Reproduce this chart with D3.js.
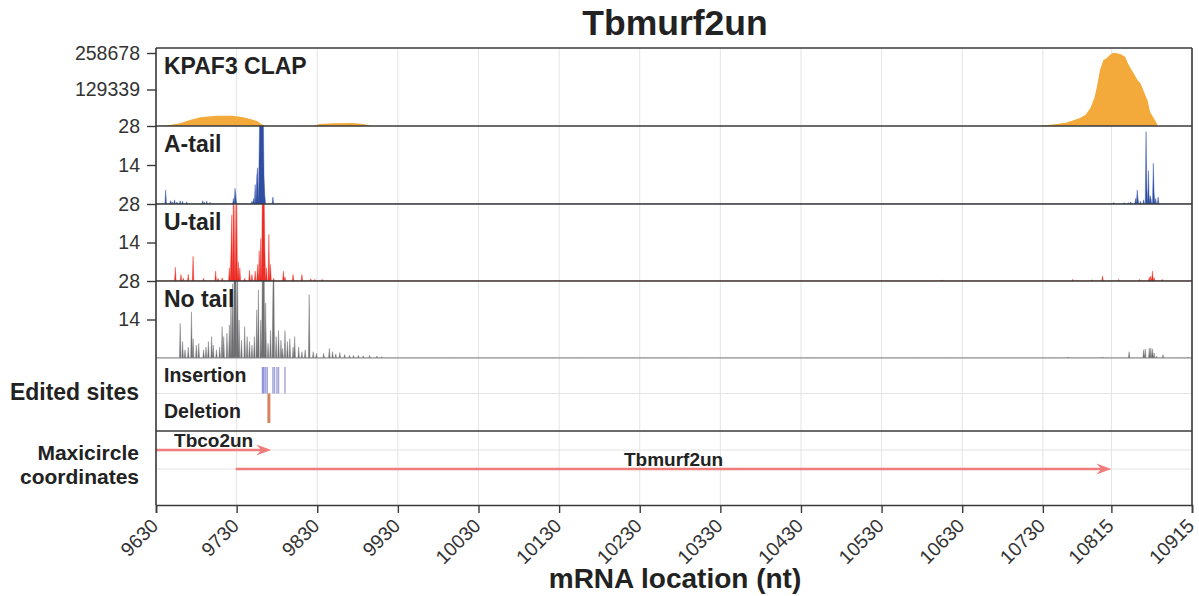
<!DOCTYPE html>
<html>
<head>
<meta charset="utf-8">
<script src="https://cdn.jsdelivr.net/npm/d3@7/dist/d3.min.js"></script>
<style>
  html, body { margin: 0; padding: 0; background: #fff; }
  svg { display: block; font-family: "Liberation Sans", Arial, Helvetica, sans-serif; }
</style>
</head>
<body>
<svg id="chart" width="1199" height="596"></svg>
<script>
// ---- data ----------------------------------------------------------------
const xTicks = [9630, 9730, 9830, 9930, 10030, 10130, 10230, 10330, 10430, 10530, 10630, 10730, 10815, 10915];

// KPAF3 CLAP coverage (position, reads)
const clapPos = [9631, 9645, 9660, 9672, 9685, 9705, 9725, 9738, 9748, 9755, 9761, 9765, 9768,
                 9825, 9833, 9850, 9874, 9887, 9899,
                 10720, 10740, 10760, 10776, 10783, 10789, 10794, 10797, 10801, 10805, 10809, 10813, 10817, 10820,
                 10826, 10832, 10835, 10838, 10844, 10848, 10851, 10857, 10860, 10863, 10866, 10869, 10873];
const clapVal = [0, 3000, 9500, 21000, 31000, 36500, 36500, 31000, 24000, 18000, 6000, 1500, 0,
                 0, 7000, 9500, 10500, 7000, 0,
                 0, 4000, 12000, 28000, 40000, 64000, 100000, 138000, 200000, 233000, 240000, 252000, 258678, 258678,
                 255000, 245000, 225000, 209000, 180000, 160000, 152000, 110000, 90000, 50000, 35000, 21000, 0];
const clapTicks = [129339, 258678];

// tailed read counts (position, reads)
const aTailPos = [9642, 9648, 9650, 9653, 9656, 9660, 9663, 9668, 9688, 9690, 9693, 9697, 9726, 9728, 9729,
                  9749, 9751, 9753, 9755, 9756, 9758, 9759, 9760, 9761, 9762, 9763, 9764, 9765, 9775,
                  10818, 10831, 10836, 10839, 10845, 10847, 10848, 10851, 10855, 10858, 10859, 10861, 10863,
                  10864, 10867, 10868, 10870, 10873];
const aTailVal = [5, 1.2, 0.8, 1.5, 0.7, 1.2, 1, 0.8, 1.2, 0.6, 1, 0.6, 2, 5.6, 3,
                  1, 2, 7, 10, 13, 20, 40, 60, 60, 45, 35, 10, 3, 2.5,
                  0.5, 0.5, 0.5, 0.8, 2, 5, 2, 1, 1.5, 26, 6, 12, 3,
                  2, 14.6, 4, 2, 2.5];

const uTailPos = [9654, 9661, 9664, 9670, 9676, 9689, 9704, 9707, 9712, 9721, 9723, 9724, 9726, 9728, 9730,
                  9732, 9734, 9740, 9746, 9749, 9753, 9756, 9758, 9760, 9762, 9763, 9764, 9765, 9767, 9770,
                  9772, 9776, 9788, 9790, 9800, 9811, 9822, 9827, 9836,
                  10605, 10767, 10791, 10804, 10824, 10850, 10862, 10864, 10866, 10868, 10878];
const uTailVal = [5, 2.4, 1, 2.4, 9, 1, 3.6, 1, 1.2, 4.8, 11, 24, 40, 27.5, 40,
                  7, 4.8, 1, 4, 2.4, 3.6, 6, 11, 15.5, 40, 40, 35, 12, 4.8, 17,
                  6, 1, 3.6, 1.5, 2.4, 2.4, 0.8, 0.6, 0.6,
                  0.4, 0.6, 0.5, 1.8, 0.6, 0.6, 1.4, 1.8, 3.6, 1.2, 0.6];

const noTailPos = [9660, 9663, 9666, 9670, 9674, 9676, 9680, 9683, 9689, 9692, 9695, 9699, 9701, 9705, 9709,
                   9712, 9714, 9718, 9721, 9723, 9725, 9727, 9728, 9729, 9731, 9733, 9736, 9740, 9743, 9746,
                   9749, 9752, 9755, 9757, 9760, 9762, 9763, 9764, 9766, 9769, 9772, 9775, 9776, 9779, 9782,
                   9785, 9787, 9790, 9793, 9796, 9800, 9802, 9807, 9811, 9815, 9820, 9825, 9829, 9838, 9845,
                   9849, 9853, 9858, 9864, 9870, 9875, 9881, 9887, 9895, 9904, 9910,
                   10761, 10804, 10837, 10855, 10857, 10862, 10864, 10866, 10868, 10871, 10879, 10910];
const noTailVal = [12.6, 6, 3, 4, 16.8, 7, 4.7, 5.3, 3, 4, 6, 7.8, 4.7, 3, 4,
                   11.4, 7.8, 9, 12, 20, 27, 40, 35, 40, 40, 13.8, 6.5, 11.4, 7.8, 6,
                   4.7, 7.8, 17.5, 24.8, 13.8, 40, 35, 40, 20, 5.3, 10, 24.8, 40, 7.8, 10,
                   6.5, 3.5, 10, 6, 7, 4, 7.8, 4, 2.3, 3, 23, 2.3, 1.7, 1.7, 3.5,
                   2.3, 1.5, 2, 1.3, 1, 1, 1, 0.8, 1, 0.7, 0.5,
                   0.4, 0.4, 2.3, 3, 3.3, 3.6, 3.6, 3.3, 1.8, 0.6, 1.2, 0.4];
const tailTicks = [14, 28];

// edited sites
const insertionSites = [9762, 9763, 9764, 9766, 9768, 9775, 9777, 9780, 9782, 9790];
const deletionSites = [9770];

// maxicircle genes
const geneNames = ["Tbco2un", "Tbmurf2un"];
const geneStart = [9630, 9729];
const geneEnd = [9773, 10815];

// ---- layout --------------------------------------------------------------
const svg = d3.select("#chart");
const left = 156, right = 1192;
const panels = {
  clap:   { top: 48,  bottom: 126 },
  aTail:  { top: 126, bottom: 204 },
  uTail:  { top: 204, bottom: 281 },
  noTail: { top: 281, bottom: 358 },
  edited: { top: 358, bottom: 431 },
  maxi:   { top: 431, bottom: 505 }
};
const gridColor = "#e4e4e4";
const frameColor = "#3a3a3a";
const textColor = "#222";

const x = d3.scaleLinear().domain([9630, 10915]).range([left, right]);

const defs = svg.append("defs");

// vertical grid lines through all panels
svg.append("g").selectAll("line").data(xTicks).join("line")
  .attr("x1", d => x(d)).attr("x2", d => x(d))
  .attr("y1", panels.clap.top).attr("y2", panels.maxi.bottom)
  .attr("stroke", gridColor).attr("stroke-width", 1);

// per-panel clip paths
Object.entries(panels).forEach(([k, p]) => {
  defs.append("clipPath").attr("id", "clip-" + k)
    .append("rect").attr("x", left).attr("y", p.top)
    .attr("width", right - left).attr("height", p.bottom - p.top);
});

// ---- KPAF3 CLAP coverage ---------------------------------------------------
const yClap = d3.scaleLinear().domain([0, 258678 * 78 / 73]).range([panels.clap.bottom, panels.clap.top]);
const clapData = clapPos.map((p, i) => ({ p, v: clapVal[i] }));
svg.append("path")
  .attr("clip-path", "url(#clip-clap)")
  .attr("d", d3.area().x(d => x(d.p)).y0(yClap(0)).y1(d => yClap(d.v))(clapData))
  .attr("fill", "#f4a93b");

// ---- tailed reads: one value per nucleotide, zero where no reads -----------
function perNucleotide(pos, val) {
  const m = new Map(pos.map((p, i) => [p, val[i]]));
  return d3.range(9630, 10916).map(p => ({ p, v: m.get(p) || 0 }));
}
function spikes(panelKey, pos, val, color) {
  const p = panels[panelKey];
  const y = d3.scaleLinear().domain([0, 28]).range([p.bottom, p.top]);
  svg.append("path")
    .attr("clip-path", "url(#clip-" + panelKey + ")")
    .attr("d", d3.area().x(d => x(d.p)).y0(y(0)).y1(d => y(d.v))(perNucleotide(pos, val)))
    .attr("fill", color).attr("stroke", color).attr("stroke-width", 0.4);
  return y;
}
const yA = spikes("aTail", aTailPos, aTailVal, "#2f4ea3");
const yU = spikes("uTail", uTailPos, uTailVal, "#ee2b24");
const yN = spikes("noTail", noTailPos, noTailVal, "#6f6f72");
svg.append("line").attr("x1", left).attr("x2", right)
  .attr("y1", panels.noTail.bottom).attr("y2", panels.noTail.bottom)
  .attr("stroke", "#8a8a8a").attr("stroke-width", 1.2);

// ---- edited sites ----------------------------------------------------------
const ed = panels.edited;
const edMid = (ed.top + ed.bottom) / 2 - 1;
svg.append("line").attr("x1", left).attr("x2", right).attr("y1", edMid).attr("y2", edMid)
  .attr("stroke", gridColor).attr("stroke-width", 1);
svg.append("g").selectAll("line").data(insertionSites).join("line")
  .attr("x1", d => x(d)).attr("x2", d => x(d))
  .attr("y1", ed.top + 9).attr("y2", edMid)
  .attr("stroke", "#7c7cd0").attr("stroke-opacity", 0.7).attr("stroke-width", 1.4);
svg.append("g").selectAll("line").data(deletionSites).join("line")
  .attr("x1", d => x(d)).attr("x2", d => x(d))
  .attr("y1", edMid).attr("y2", ed.bottom - 8)
  .attr("stroke", "#d8845f").attr("stroke-width", 3);

// ---- maxicircle coordinates ------------------------------------------------
const geneRowY = [450, 469];
svg.append("g").selectAll("line").data(geneRowY).join("line")
  .attr("x1", left).attr("x2", right).attr("y1", d => d).attr("y2", d => d)
  .attr("stroke", gridColor).attr("stroke-width", 1);
const arrowColor = "#f07c7c";
const genes = svg.append("g").attr("clip-path", "url(#clip-maxi)");
geneNames.forEach((name, i) => {
  const x0 = x(geneStart[i]), x1 = x(geneEnd[i]), yy = geneRowY[i];
  genes.append("line").attr("x1", x0).attr("x2", x1 - 6).attr("y1", yy).attr("y2", yy)
    .attr("stroke", arrowColor).attr("stroke-width", 2.6);
  genes.append("path")
    .attr("d", `M${x1},${yy} L${x1 - 15},${yy - 5.5} L${x1 - 10},${yy} L${x1 - 15},${yy + 5.5} Z`)
    .attr("fill", arrowColor);
  svg.append("text").attr("x", (x0 + x1) / 2).attr("y", yy - 3)
    .attr("text-anchor", "middle").attr("font-size", 19).attr("font-weight", "bold")
    .attr("fill", textColor).text(name);
});

// ---- frames ----------------------------------------------------------------
const frame = svg.append("g").attr("stroke", frameColor).attr("stroke-width", 1.6);
[panels.clap.top, panels.clap.bottom, panels.aTail.bottom, panels.uTail.bottom, panels.edited.bottom]
  .forEach(yy => frame.append("line").attr("x1", left).attr("x2", right).attr("y1", yy).attr("y2", yy));
frame.append("line").attr("x1", right).attr("x2", right).attr("y1", panels.clap.top).attr("y2", panels.maxi.bottom);
frame.append("line").attr("x1", left).attr("x2", left).attr("y1", panels.clap.top).attr("y2", panels.maxi.bottom);

// ---- y axes ----------------------------------------------------------------
function yAxis(scale, ticks) {
  const g = svg.append("g").attr("transform", `translate(${left},0)`)
    .call(d3.axisLeft(scale).tickValues(ticks).tickSize(9).tickPadding(7).tickFormat(d3.format("d")));
  g.select(".domain").remove();
  g.selectAll("line").attr("stroke", frameColor).attr("stroke-width", 1.4);
  g.selectAll("text").attr("font-size", 19.5).attr("fill", "#333")
    .attr("font-family", "'Liberation Sans', Arial, sans-serif");
}
yAxis(yClap, clapTicks);
yAxis(yA, tailTicks);
yAxis(yU, tailTicks);
yAxis(yN, tailTicks);

// ---- x axis ----------------------------------------------------------------
const xg = svg.append("g").attr("transform", `translate(0,${panels.maxi.bottom})`)
  .call(d3.axisBottom(x).tickValues(xTicks).tickSize(8).tickFormat(d3.format("d")));
xg.select(".domain").attr("stroke", frameColor).attr("stroke-width", 1.6);
xg.selectAll("line").attr("stroke", frameColor).attr("stroke-width", 1.4);
xg.selectAll("text")
  .attr("font-size", 19.5).attr("fill", "#333")
  .attr("font-family", "'Liberation Sans', Arial, sans-serif")
  .attr("text-anchor", "end")
  .attr("x", 0).attr("y", 0).attr("dy", 0)
  .attr("transform", "translate(3,22) rotate(-45)");

// ---- labels ----------------------------------------------------------------
function label(txt, xx, yy, size, anchor) {
  return svg.append("text").attr("x", xx).attr("y", yy).attr("font-size", size)
    .attr("font-weight", "bold").attr("fill", textColor)
    .attr("text-anchor", anchor || "start").text(txt);
}
label("Tbmurf2un", 675, 35, 35.5, "middle");
label("KPAF3 CLAP", 164, 74, 23);
label("A-tail", 164, 152, 23);
label("U-tail", 164, 230, 23);
label("No tail", 164, 307, 23);
label("Insertion", 164, 382, 19.5);
label("Deletion", 164, 418, 19.5);
label("Edited sites", 139, 400, 23, "end");
label("Maxicircle", 139, 460, 21, "end");
label("coordinates", 139, 484, 21, "end");
label("mRNA location (nt)", 675, 588, 28, "middle");
</script>
</body>
</html>
